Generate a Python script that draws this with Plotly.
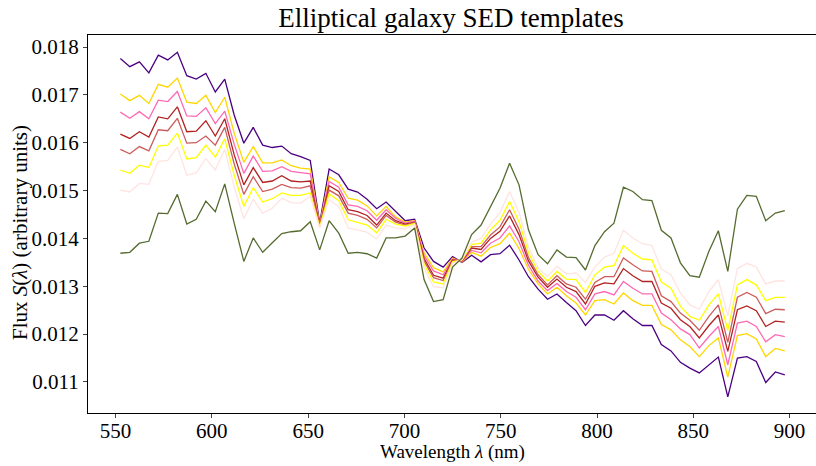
import plotly.graph_objects as go

wavelength = [552.5, 557.4, 562.4, 567.3, 572.2, 577.1, 582.1, 587.0, 591.9, 596.9,
              601.8, 606.7, 611.6, 616.6, 621.5, 626.4, 631.4, 636.3, 641.2, 646.1,
              651.1, 656.0, 660.9, 665.9, 670.8, 675.7, 680.6, 685.6, 690.5, 695.4,
              700.4, 705.3, 710.2, 715.1, 720.1, 725.0, 729.9, 734.9, 739.8, 744.7,
              749.6, 754.6, 759.5, 764.4, 769.4, 774.3, 779.2, 784.1, 789.1, 794.0,
              798.9, 803.9, 808.8, 813.7, 818.6, 823.6, 828.5, 833.4, 838.4, 843.3,
              848.2, 853.1, 858.1, 863.0, 867.9, 872.9, 877.8, 882.7, 887.6, 892.6,
              897.5]

flux_indigo = [0.01776, 0.01759, 0.01769, 0.01746, 0.01783, 0.01773, 0.01789, 0.01740, 0.01733, 0.01745,
               0.01706, 0.01733, 0.01658, 0.01599, 0.01632, 0.01595, 0.01590, 0.01593, 0.01577, 0.01571,
               0.01563, 0.01432, 0.01545, 0.01533, 0.01503, 0.01497, 0.01482, 0.01462, 0.01476, 0.01456,
               0.01437, 0.01440, 0.01380, 0.01352, 0.01340, 0.01362, 0.01350, 0.01365, 0.01351, 0.01366,
               0.01368, 0.01386, 0.01355, 0.01320, 0.01294, 0.01273, 0.01284, 0.01266, 0.01249, 0.01218,
               0.01240, 0.01240, 0.01229, 0.01249, 0.01232, 0.01218, 0.01218, 0.01178, 0.01165, 0.01141,
               0.01129, 0.01119, 0.01136, 0.01152, 0.01069, 0.01150, 0.01153, 0.01143, 0.01099, 0.01121,
               0.01115]

flux_gold = [0.01702, 0.01688, 0.01699, 0.01682, 0.01722, 0.01716, 0.01735, 0.01685, 0.01682, 0.01699,
             0.01663, 0.01695, 0.01620, 0.01559, 0.01592, 0.01558, 0.01558, 0.01564, 0.01552, 0.01547,
             0.01545, 0.01428, 0.01529, 0.01517, 0.01484, 0.01480, 0.01468, 0.01447, 0.01467, 0.01445,
             0.01434, 0.01437, 0.01370, 0.01339, 0.01330, 0.01359, 0.01351, 0.01371, 0.01363, 0.01381,
             0.01389, 0.01411, 0.01379, 0.01335, 0.01305, 0.01284, 0.01298, 0.01280, 0.01265, 0.01240,
             0.01270, 0.01272, 0.01263, 0.01286, 0.01270, 0.01260, 0.01260, 0.01220, 0.01209, 0.01188,
             0.01174, 0.01153, 0.01176, 0.01192, 0.01110, 0.01197, 0.01201, 0.01190, 0.01153, 0.01170,
             0.01165]

flux_hotpink = [0.01664, 0.01651, 0.01665, 0.01650, 0.01689, 0.01686, 0.01707, 0.01656, 0.01655, 0.01673,
                0.01640, 0.01666, 0.01597, 0.01536, 0.01572, 0.01540, 0.01541, 0.01550, 0.01540, 0.01538,
                0.01535, 0.01426, 0.01519, 0.01507, 0.01470, 0.01467, 0.01458, 0.01438, 0.01460, 0.01442,
                0.01432, 0.01436, 0.01364, 0.01332, 0.01324, 0.01357, 0.01352, 0.01375, 0.01370, 0.01390,
                0.01401, 0.01426, 0.01393, 0.01344, 0.01311, 0.01291, 0.01306, 0.01289, 0.01277, 0.01251,
                0.01284, 0.01289, 0.01282, 0.01310, 0.01296, 0.01284, 0.01284, 0.01244, 0.01230, 0.01211,
                0.01199, 0.01171, 0.01195, 0.01216, 0.01136, 0.01223, 0.01227, 0.01216, 0.01184, 0.01199,
                0.01195]

flux_firebrick = [0.01618, 0.01609, 0.01623, 0.01612, 0.01654, 0.01650, 0.01675, 0.01623, 0.01624, 0.01646,
                  0.01614, 0.01650, 0.01575, 0.01512, 0.01548, 0.01517, 0.01520, 0.01531, 0.01520, 0.01518,
                  0.01520, 0.01425, 0.01510, 0.01498, 0.01460, 0.01456, 0.01448, 0.01428, 0.01453, 0.01437,
                  0.01430, 0.01434, 0.01358, 0.01323, 0.01317, 0.01355, 0.01353, 0.01380, 0.01377, 0.01400,
                  0.01415, 0.01447, 0.01408, 0.01353, 0.01319, 0.01298, 0.01315, 0.01298, 0.01289, 0.01263,
                  0.01300, 0.01307, 0.01305, 0.01337, 0.01322, 0.01310, 0.01310, 0.01265, 0.01254, 0.01230,
                  0.01216, 0.01192, 0.01218, 0.01240, 0.01164, 0.01251, 0.01259, 0.01249, 0.01216, 0.01227,
                  0.01225]

flux_indianred = [0.01586, 0.01577, 0.01592, 0.01583, 0.01627, 0.01625, 0.01651, 0.01599, 0.01600, 0.01614,
                  0.01595, 0.01632, 0.01556, 0.01492, 0.01529, 0.01498, 0.01503, 0.01513, 0.01506, 0.01505,
                  0.01510, 0.01425, 0.01501, 0.01489, 0.01453, 0.01448, 0.01440, 0.01422, 0.01448, 0.01434,
                  0.01428, 0.01433, 0.01353, 0.01318, 0.01312, 0.01353, 0.01354, 0.01383, 0.01383, 0.01407,
                  0.01424, 0.01460, 0.01419, 0.01360, 0.01324, 0.01303, 0.01322, 0.01305, 0.01298, 0.01273,
                  0.01308, 0.01320, 0.01320, 0.01359, 0.01345, 0.01332, 0.01331, 0.01280, 0.01268, 0.01244,
                  0.01229, 0.01208, 0.01237, 0.01261, 0.01183, 0.01277, 0.01287, 0.01277, 0.01243, 0.01252,
                  0.01251]

flux_yellow = [0.01543, 0.01536, 0.01553, 0.01548, 0.01593, 0.01595, 0.01620, 0.01566, 0.01569, 0.01595,
               0.01570, 0.01608, 0.01532, 0.01467, 0.01506, 0.01476, 0.01483, 0.01495, 0.01490, 0.01490,
               0.01495, 0.01424, 0.01493, 0.01479, 0.01439, 0.01434, 0.01428, 0.01412, 0.01440, 0.01430,
               0.01426, 0.01431, 0.01346, 0.01309, 0.01305, 0.01351, 0.01355, 0.01387, 0.01390, 0.01418,
               0.01438, 0.01477, 0.01435, 0.01370, 0.01331, 0.01311, 0.01331, 0.01315, 0.01314, 0.01287,
               0.01324, 0.01340, 0.01343, 0.01385, 0.01369, 0.01357, 0.01355, 0.01309, 0.01296, 0.01258,
               0.01237, 0.01229, 0.01261, 0.01284, 0.01208, 0.01303, 0.01314, 0.01303, 0.01270, 0.01277,
               0.01277]

flux_mistyrose = [0.01501, 0.01497, 0.01515, 0.01513, 0.01561, 0.01563, 0.01591, 0.01532, 0.01537, 0.01567,
                  0.01543, 0.01586, 0.01508, 0.01441, 0.01482, 0.01453, 0.01463, 0.01484, 0.01475, 0.01474,
                  0.01488, 0.01422, 0.01481, 0.01467, 0.01422, 0.01418, 0.01413, 0.01399, 0.01428, 0.01422,
                  0.01420, 0.01429, 0.01338, 0.01299, 0.01297, 0.01348, 0.01356, 0.01392, 0.01400, 0.01430,
                  0.01454, 0.01498, 0.01454, 0.01382, 0.01339, 0.01320, 0.01342, 0.01326, 0.01328, 0.01308,
                  0.01340, 0.01361, 0.01369, 0.01417, 0.01401, 0.01389, 0.01385, 0.01336, 0.01324, 0.01286,
                  0.01261, 0.01252, 0.01289, 0.01314, 0.01238, 0.01337, 0.01348, 0.01340, 0.01305, 0.01311,
                  0.01311]

flux_olive = [0.01369, 0.01371, 0.01390, 0.01394, 0.01453, 0.01452, 0.01492, 0.01430, 0.01440, 0.01478,
              0.01456, 0.01514, 0.01432, 0.01352, 0.01401, 0.01371, 0.01391, 0.01410, 0.01414, 0.01416,
              0.01435, 0.01376, 0.01437, 0.01411, 0.01369, 0.01371, 0.01368, 0.01359, 0.01401, 0.01401,
              0.01405, 0.01422, 0.01314, 0.01268, 0.01272, 0.01340, 0.01359, 0.01408, 0.01428, 0.01467,
              0.01505, 0.01557, 0.01512, 0.01418, 0.01366, 0.01347, 0.01376, 0.01361, 0.01360, 0.01334,
              0.01385, 0.01414, 0.01432, 0.01507, 0.01498, 0.01481, 0.01479, 0.01417, 0.01401, 0.01349,
              0.01322, 0.01319, 0.01373, 0.01416, 0.01331, 0.01461, 0.01490, 0.01488, 0.01437, 0.01453,
              0.01458]

series = [
    (flux_indigo, "indigo"),
    (flux_gold, "gold"),
    (flux_hotpink, "hotpink"),
    (flux_firebrick, "firebrick"),
    (flux_indianred, "indianred"),
    (flux_yellow, "yellow"),
    (flux_mistyrose, "mistyrose"),
    (flux_olive, "darkolivegreen"),
]

y_ticks = [0.011, 0.012, 0.013, 0.014, 0.015, 0.016, 0.017, 0.018]
y_tick_labels = ["0.011", "0.012", "0.013", "0.014", "0.015", "0.016", "0.017", "0.018"]
x_ticks = [550, 600, 650, 700, 750, 800, 850, 900]

fig = go.Figure()
for vals, col in series:
    fig.add_trace(go.Scatter(x=wavelength, y=vals, mode="lines",
                             line=dict(color=col, width=1.3), showlegend=False))

serif = "Liberation Serif, DejaVu Serif, serif"
fig.update_layout(
    width=816, height=466,
    margin=dict(l=88, r=0, t=35, b=53),
    paper_bgcolor="white", plot_bgcolor="white",
    font=dict(family=serif, color="black"),
    title=dict(text="Elliptical galaxy SED templates", x=451/816, xanchor="center",
               y=1 - 18/466, yanchor="middle", font=dict(size=27, family=serif)),
    annotations=[
        dict(text="Wavelength <i>λ</i> (nm)", xref="paper", yref="paper",
             x=0.5, y=(413 - 452) / 378, xanchor="center", yanchor="middle",
             showarrow=False, font=dict(size=19)),
        dict(text="Flux <i>S</i>(<i>λ</i>) (arbitrary units)", xref="paper", yref="paper",
             x=(20 - 88) / 728, y=(413 - 233) / 378, xanchor="center", yanchor="middle",
             textangle=-90, showarrow=False, font=dict(size=21)),
    ],
)
fig.update_xaxes(range=[535.7, 913.7], tickvals=x_ticks, ticks="outside", ticklen=4,
                 tickfont=dict(size=21), showline=True, linecolor="black", linewidth=1,
                 mirror=True, showgrid=False, zeroline=False, automargin=False,
                 ticklabelstandoff=-5)
fig.update_yaxes(range=[0.010352, 0.018251], tickvals=y_ticks, ticktext=y_tick_labels,
                 ticks="outside", ticklen=4, tickfont=dict(size=21), showline=True,
                 linecolor="black", linewidth=1, mirror=False, showgrid=False, zeroline=False,
                 automargin=False)

fig.write_html("out.html", config={"displayModeBar": False},
               post_script="document.body.style.margin='0';document.body.style.padding='0';")
